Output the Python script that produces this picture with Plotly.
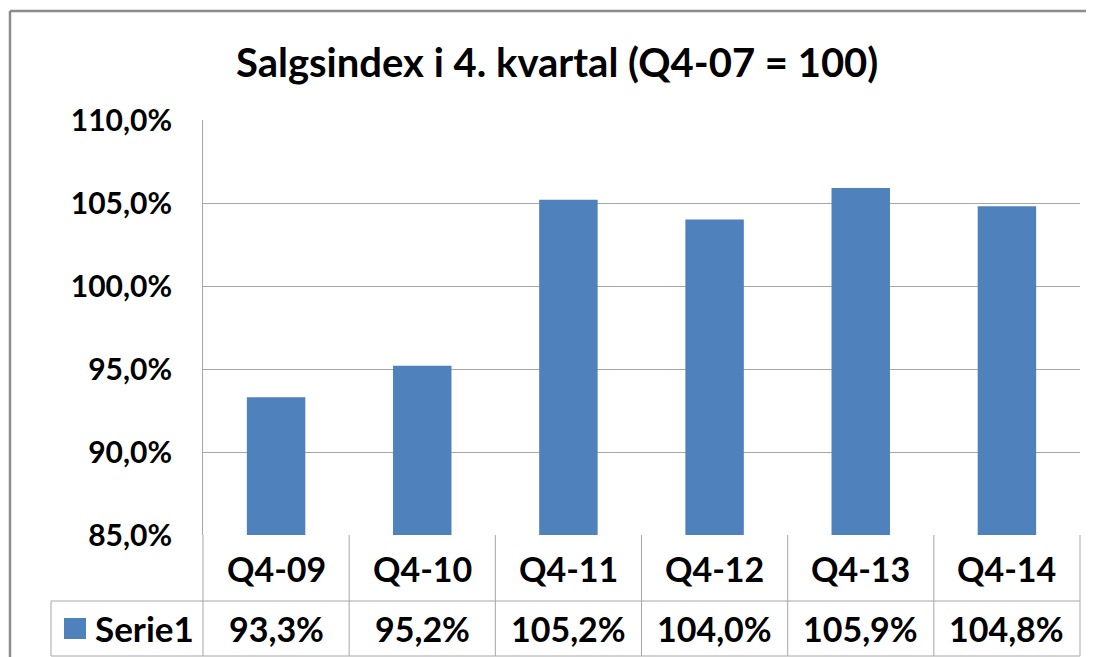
import plotly.graph_objects as go

categories = ["Q4-09", "Q4-10", "Q4-11", "Q4-12", "Q4-13", "Q4-14"]
values = [93.3, 95.2, 105.2, 104.0, 105.9, 104.8]
series_name = "Serie1"
title_text = "Salgsindex i 4. kvartal (Q4-07 = 100)"
y_ticks = [85, 90, 95, 100, 105, 110]

BAR = "#4F81BD"
GRID = "#A6A6A6"
FONT = "Lato"

OFF = 8  # default page body margin
W, H = 1094 - OFF, 657 - OFF
L = 203 - OFF
T = 120 - OFF
R = W - (1080 - OFF)
B = H - (535 - OFF)
pw, ph = W - L - R, H - T - B

def px_y(y):
    return (H - B - (y - OFF)) / ph

def px_x(x):
    return ((x - OFF) - L) / pw

def pct(v):
    return f"{v:.1f}".replace(".", ",") + "%"

fig = go.Figure()
fig.add_trace(go.Bar(x=categories, y=values, marker=dict(color=BAR, line=dict(width=0)),
                     name=series_name, showlegend=False, hoverinfo="skip"))

shapes = []
annotations = []
# outer frame (only top and left edges visible)
frame = dict(color="#8C8C8C", width=2.5)
shapes.append(dict(type="line", xref="paper", yref="paper",
                   x0=px_x(10), x1=px_x(1094), y0=px_y(11), y1=px_y(11), line=frame, layer="below"))
shapes.append(dict(type="line", xref="paper", yref="paper",
                   x0=px_x(10), x1=px_x(10), y0=px_y(11), y1=px_y(657), line=frame, layer="below"))
# table lines
line_style = dict(color=GRID, width=1)
y_top, y_mid, y_bot = px_y(535), px_y(601), px_y(656)
x_left_legend = px_x(51)
shapes.append(dict(type="line", xref="paper", yref="paper", x0=x_left_legend, x1=1, y0=y_mid, y1=y_mid, line=line_style))
shapes.append(dict(type="line", xref="paper", yref="paper", x0=x_left_legend, x1=1, y0=y_bot, y1=y_bot, line=line_style))
shapes.append(dict(type="line", xref="paper", yref="paper", x0=x_left_legend, x1=x_left_legend, y0=y_bot, y1=y_mid, line=line_style))
n = len(categories)
for i in range(n + 1):
    xv = i / n
    shapes.append(dict(type="line", xref="paper", yref="paper", x0=xv, x1=xv, y0=y_bot, y1=y_top, line=line_style))
# legend key
shapes.append(dict(type="rect", xref="paper", yref="paper",
                   x0=px_x(64), x1=px_x(86), y0=px_y(639), y1=px_y(618),
                   fillcolor=BAR, line=dict(width=0)))

cell_font = dict(family=FONT, size=34, color="black")
for c, v in zip(categories, values):
    annotations.append(dict(x=c, xref="x", y=px_y(568), yref="paper", text=f"<b>{c}</b>",
                            showarrow=False, font=cell_font, xanchor="center", yanchor="middle"))
    annotations.append(dict(x=c, xref="x", y=px_y(628), yref="paper", text=f"<b>{pct(v)}</b>",
                            showarrow=False, font=cell_font, xanchor="center", yanchor="middle"))
annotations.append(dict(x=px_x(93), xref="paper", y=px_y(628), yref="paper", text=f"<b>{series_name}</b>",
                        showarrow=False, font=dict(family=FONT, size=35, color="black"),
                        xanchor="left", yanchor="middle"))
annotations.append(dict(x=px_x(557), xref="paper", y=px_y(62), yref="paper", text=f"<b>{title_text}</b>",
                        showarrow=False, font=dict(family=FONT, size=40, color="black"),
                        xanchor="center", yanchor="middle"))

fig.update_layout(
    width=W, height=H,
    margin=dict(l=L, r=R, t=T, b=B),
    paper_bgcolor="white", plot_bgcolor="white",
    bargap=0.6,
    shapes=shapes, annotations=annotations,
    font=dict(family=FONT, color="black"),
)
fig.update_xaxes(showticklabels=False, showgrid=False, showline=False, zeroline=False, fixedrange=True)
fig.update_yaxes(range=[85, 110], tickvals=y_ticks, ticktext=[f"<b>{pct(t)}</b>" for t in y_ticks],
                 showgrid=True, gridcolor=GRID, gridwidth=1, zeroline=False,
                 showline=True, linecolor=GRID, linewidth=1, ticks="",
                 tickfont=dict(family=FONT, size=30, color="black"), ticklabelstandoff=24)
fig.write_html("out.html", config={"displayModeBar": False})
